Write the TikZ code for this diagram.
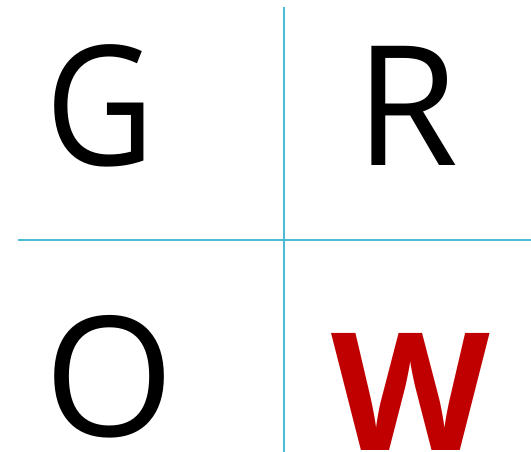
\documentclass[tikz,border=0pt]{standalone}
\usepackage{fontspec}
\setmainfont{Open Sans}
\definecolor{gridblue}{RGB}{75,188,214}
\definecolor{wred}{RGB}{192,0,0}
\begin{document}
\begin{tikzpicture}[x=1pt,y=1pt,
letter/.style={anchor=base,inner sep=0pt,font=\fontsize{167}{167}\selectfont},
divider/.style={draw=gridblue,line width=2pt}]
\useasboundingbox (0,0) rectangle (531,452);
\coordinate (vtop) at (284,445);
\coordinate (vbot) at (284,0);
\coordinate (hleft) at (18,212);
\coordinate (hright) at (531,212);
\path[divider]
(vtop) -- (vbot)
(hleft) -- (hright)
;
\node[letter,xscale=0.9] (g) at (100,286) {G};
\node[letter] (r) at (407,286) {R};
\node[letter] (o) at (110,15.5) {O};
\node[letter,text=wred,font=\fontsize{164}{164}\bfseries\selectfont] (w) at (410.5,1.5) {W};
\end{tikzpicture}
\end{document}
